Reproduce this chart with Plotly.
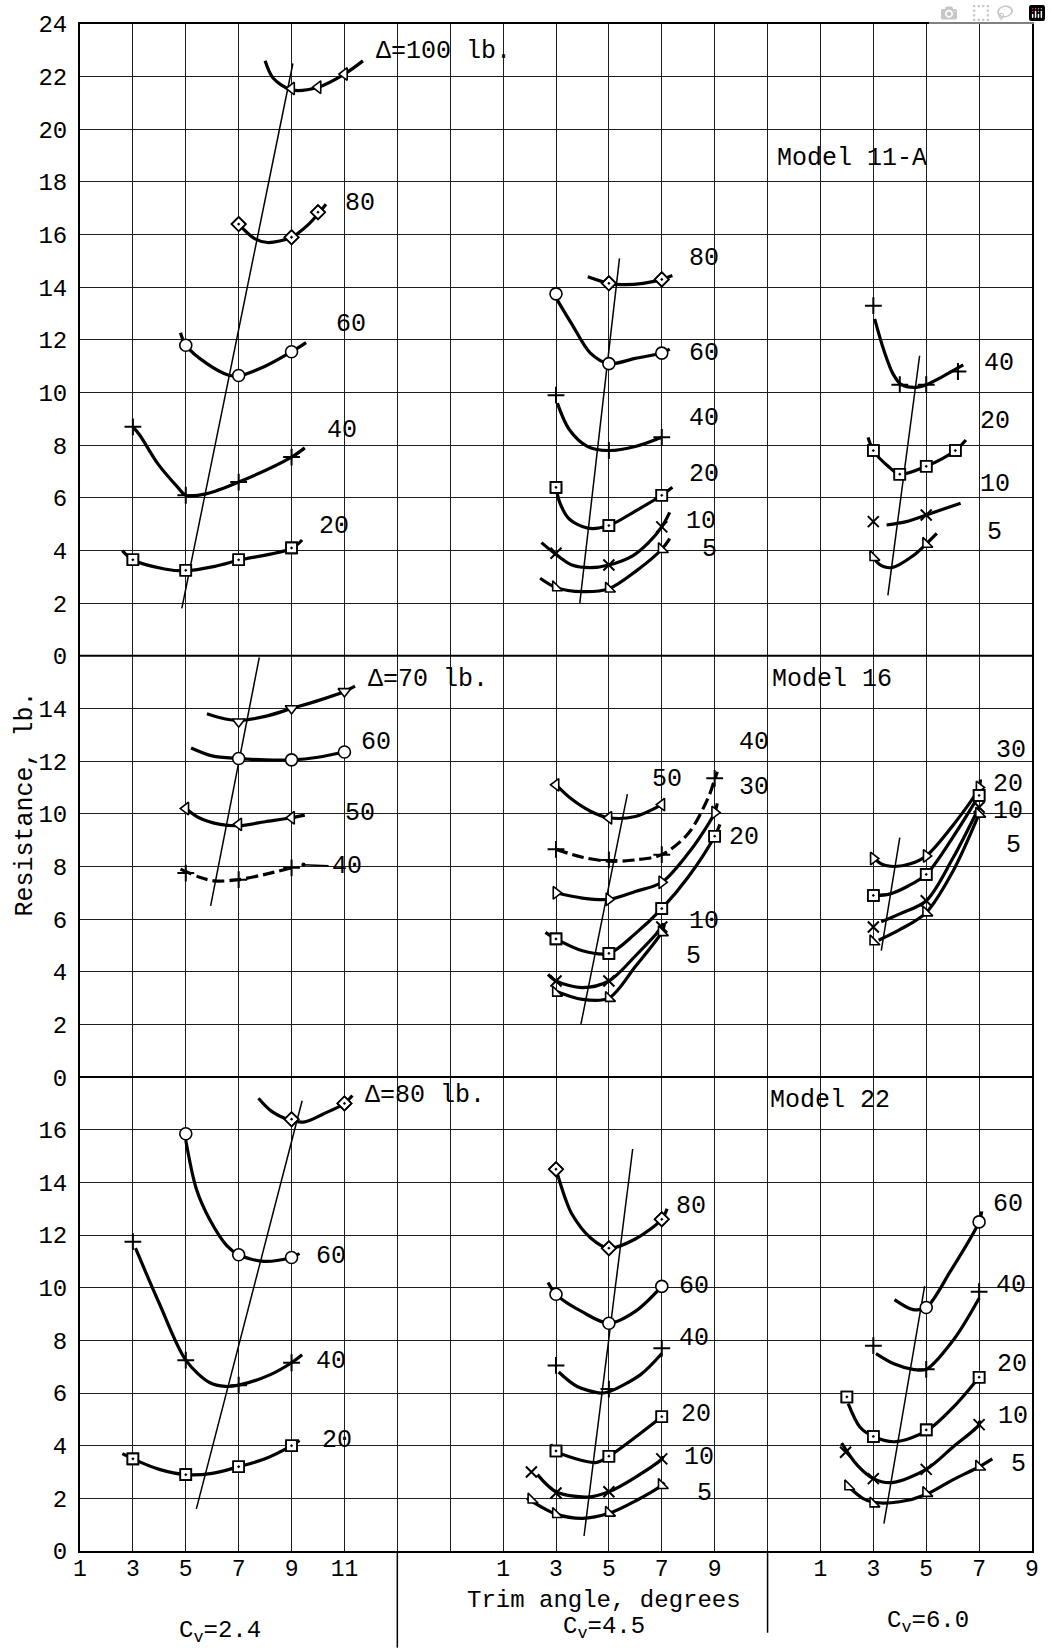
import plotly.graph_objects as go

# ------------------------------------------------------------------
# Data (panel coordinates).
# x = trim angle (deg), y = resistance (lb).
# *_PX/*_PY : plotted test points, one list per displacement (DELTA)
# *_CX/*_CY : faired curve traced through the points
# *_TX/*_TY : straight line through the curve minima
# A = Model 11-A, B = Model 16, C = Model 22 ; 24/45/60 = Cv 2.4/4.5/6.0
# ------------------------------------------------------------------

# ---- Model 11-A, Cv = 2.4
A24_DELTA = [100, 80, 60, 40, 20]
A24_PX = [[9, 10, 11], [7, 9, 10], [5, 7, 9], [3, 5, 7, 9], [3, 5, 7, 9]]
A24_PY = [[21.55, 21.6, 22.1], [16.4, 15.9, 16.85], [11.8, 10.65, 11.55],
          [8.7, 6.1, 6.6, 7.55], [3.65, 3.25, 3.65, 4.1]]
A24_CX = [[8.0, 8.3, 9.0, 10.0, 11.0, 11.7],
          [7.0, 7.6, 8.1, 9.0, 9.6, 10.1, 10.3],
          [4.8, 5.0, 5.8, 6.6, 7.0, 8.0, 9.0, 9.55],
          [3.0, 3.25, 3.94, 4.7, 5.0, 5.8, 7.0, 9.0, 9.5],
          [2.6, 3.0, 4.2, 5.0, 6.1, 7.0, 9.0, 9.4]]
A24_CY = [[22.6, 21.95, 21.5, 21.6, 22.1, 22.6],
          [16.4, 15.85, 15.7, 15.9, 16.35, 16.9, 17.15],
          [12.27, 11.8, 11.1, 10.67, 10.64, 11.0, 11.55, 11.9],
          [8.7, 8.4, 7.3, 6.4, 6.1, 6.16, 6.6, 7.55, 7.9],
          [4.0, 3.65, 3.3, 3.23, 3.4, 3.63, 4.08, 4.4]]
A24_TX = [4.85, 9.05]
A24_TY = [1.8, 22.5]

# ---- Model 11-A, Cv = 4.5
A45_DELTA = [80, 60, 40, 20, 10, 5]
A45_PX = [[5, 7], [3, 5, 7], [3, 5, 7], [3, 5, 7], [3, 5, 7], [3, 5, 7]]
A45_PY = [[14.15, 14.3], [13.75, 11.1, 11.5], [9.9, 7.8, 8.3], [6.4, 4.95, 6.1],
          [3.9, 3.45, 4.9], [2.6, 2.55, 4.05]]
A45_CX = [[4.2, 5.0, 5.5, 6.3, 7.0, 7.4],
          [3.0, 3.6, 4.3, 5.0, 6.0, 7.0, 7.3],
          [3.05, 3.5, 4.2, 5.0, 6.0, 7.0],
          [3.0, 3.15, 3.5, 4.2, 5.0, 6.0, 7.0, 7.4],
          [2.45, 3.0, 3.6, 4.3, 5.0, 5.9, 6.5, 7.0, 7.3],
          [2.4, 3.0, 4.0, 5.0, 6.0, 7.0, 7.3]]
A45_CY = [[14.4, 14.15, 14.1, 14.15, 14.3, 14.45],
          [13.6, 12.6, 11.5, 11.1, 11.3, 11.5, 11.65],
          [9.6, 8.6, 7.95, 7.8, 7.95, 8.3],
          [6.4, 5.8, 5.2, 4.85, 4.95, 5.5, 6.1, 6.4],
          [4.3, 3.85, 3.45, 3.35, 3.45, 3.8, 4.3, 4.9, 5.45],
          [2.95, 2.6, 2.44, 2.55, 3.2, 4.05, 4.45]]
A45_TX = [3.9, 5.4]
A45_TY = [2.0, 15.1]

# ---- Model 11-A, Cv = 6.0
A60_DELTA = [40, 20, 10, 5]
A60_PX = [[3, 4, 5, 6.2], [3, 4, 5, 6.1], [3, 5], [3, 5]]
A60_PY = [[13.3, 10.3, 10.3, 10.8], [7.8, 6.9, 7.2, 7.8], [5.1, 5.35], [3.75, 4.25]]
A60_CX = [[3.05, 3.4, 3.75, 4.06, 4.6, 5.0, 5.6, 6.4],
          [2.8, 3.0, 3.56, 4.0, 5.0, 6.1, 6.5],
          [3.5, 4.25, 5.0, 6.3],
          [2.9, 3.2, 3.7, 4.5, 5.0, 5.4]]
A60_CY = [[12.8, 11.6, 10.7, 10.3, 10.2, 10.3, 10.6, 11.05],
          [8.3, 7.8, 7.2, 6.9, 7.2, 7.8, 8.2],
          [4.97, 5.1, 5.35, 5.8],
          [3.95, 3.5, 3.35, 3.8, 4.25, 4.65]]
A60_TX = [3.55, 4.75]
A60_TY = [2.3, 11.4]

# ---- Model 16, Cv = 2.4
B24_DELTA = [70, 60, 50, 40]
B24_PX = [[7, 9, 11], [7, 9, 11], [5, 7, 9], [5, 7, 9]]
B24_PY = [[13.5, 14.0, 14.65], [12.1, 12.05, 12.35], [10.2, 9.6, 9.85], [7.75, 7.5, 7.95]]
B24_CX = [[5.8, 6.5, 7.0, 8.0, 9.0, 10.0, 11.0, 11.4],
          [5.2, 6.0, 7.0, 8.0, 9.0, 10.0, 11.0],
          [5.0, 5.5, 6.3, 7.0, 8.0, 9.0, 9.5],
          [4.8, 5.5, 6.1, 7.0, 8.0, 9.0]]
B24_CY = [[13.8, 13.6, 13.55, 13.7, 14.0, 14.3, 14.65, 14.85],
          [12.5, 12.2, 12.1, 12.05, 12.05, 12.15, 12.35],
          [10.2, 9.85, 9.6, 9.55, 9.7, 9.85, 9.95],
          [7.9, 7.6, 7.45, 7.5, 7.7, 7.95]]
B24_TX = [5.94, 7.78]
B24_TY = [6.5, 15.94]

# ---- Model 16, Cv = 4.5
B45_DELTA = [50, 40, 30, 20, 10, 5]
B45_PX = [[3, 5, 7], [3, 5, 7, 9], [3, 5, 7, 9], [3, 5, 7, 9], [3, 5, 7], [3, 5, 7]]
B45_PY = [[11.1, 9.85, 10.35], [8.65, 8.25, 8.45, 11.35], [7.0, 6.75, 7.4, 10.05],
          [5.25, 4.7, 6.4, 9.15], [3.65, 3.65, 5.7], [3.2, 3.0, 5.5]]
B45_CX = [[3.0, 3.6, 4.3, 5.0, 6.0, 7.0],
          [3.0, 4.0, 5.0, 6.0, 7.0, 8.0, 8.75, 9.0, 9.1],
          [3.0, 4.0, 5.0, 6.0, 7.0, 8.0, 8.5, 9.0, 9.1],
          [2.6, 3.0, 4.0, 5.0, 6.0, 7.0, 8.0, 9.0, 9.2],
          [2.7, 3.0, 4.0, 5.0, 6.0, 7.0, 7.05],
          [2.9, 4.0, 5.0, 6.0, 7.0, 7.1]]
B45_CY = [[11.1, 10.55, 10.1, 9.85, 9.9, 10.35],
          [8.65, 8.35, 8.2, 8.25, 8.45, 9.25, 10.6, 11.3, 11.6],
          [7.0, 6.8, 6.75, 7.05, 7.4, 8.5, 9.2, 10.05, 10.4],
          [5.5, 5.25, 4.8, 4.7, 5.45, 6.4, 7.6, 9.15, 9.6],
          [3.9, 3.65, 3.4, 3.65, 4.6, 5.7, 5.85],
          [3.3, 2.95, 3.0, 4.2, 5.5, 5.8]]
B45_TX = [3.94, 5.7]
B45_TY = [2.0, 10.75]

# ---- Model 16, Cv = 6.0
B60_DELTA = [30, 20, 10, 5]
B60_PX = [[3, 5, 7], [3, 5, 7], [3, 5, 7], [3, 5, 7]]
B60_PY = [[8.3, 8.4, 11.0], [6.9, 7.7, 10.7], [5.7, 6.7, 10.25], [5.15, 6.25, 10.0]]
B60_CX = [[2.9, 3.3, 3.8, 4.4, 5.0, 6.0, 7.0, 7.05],
          [3.1, 3.6, 4.3, 5.0, 6.0, 7.0],
          [3.3, 4.0, 5.0, 6.0, 7.0],
          [3.2, 4.0, 5.0, 6.0, 7.0]]
B60_CY = [[8.45, 8.1, 8.0, 8.1, 8.4, 9.55, 11.0, 11.3],
          [6.9, 6.95, 7.25, 7.7, 9.1, 10.7],
          [5.9, 6.2, 6.7, 8.3, 10.25],
          [5.2, 5.6, 6.25, 7.8, 10.0]]
B60_TX = [3.3, 4.0]
B60_TY = [4.8, 9.1]

# ---- Model 22, Cv = 2.4
C24_DELTA = [80, 60, 40, 20]
C24_PX = [[9, 11], [5, 7, 9], [3, 5, 7, 9], [3, 5, 7, 9]]
C24_PY = [[16.4, 17.0], [15.85, 11.25, 11.15], [11.75, 7.25, 6.3, 7.15], [3.5, 2.9, 3.2, 4.0]]
C24_CX = [[7.75, 8.25, 9.0, 9.5, 10.2, 11.0, 11.3],
          [5.0, 5.4, 5.9, 6.55, 7.0, 7.95, 9.0, 9.3],
          [3.1, 4.0, 5.0, 5.9, 6.5, 7.0, 8.2, 9.0, 9.4],
          [2.6, 3.0, 4.0, 5.0, 6.0, 7.0, 8.0, 9.0, 9.3]]
C24_CY = [[17.2, 16.7, 16.35, 16.3, 16.6, 17.0, 17.3],
          [15.6, 13.75, 12.6, 11.6, 11.25, 11.0, 11.15, 11.3],
          [11.5, 9.4, 7.25, 6.4, 6.25, 6.3, 6.7, 7.15, 7.45],
          [3.7, 3.5, 3.1, 2.9, 2.95, 3.2, 3.5, 4.0, 4.2]]
C24_TX = [5.4, 9.4]
C24_TY = [1.6, 17.1]

# ---- Model 22, Cv = 4.5
C45_DELTA = [80, 60, 40, 20, 10, 5]
C45_PX = [[3, 5, 7], [3, 5, 7], [3, 5, 7], [3, 5, 7], [2.07, 3, 5, 7], [2.07, 3, 5, 7]]
C45_PY = [[14.5, 11.5, 12.6], [9.75, 8.65, 10.05], [7.05, 6.15, 7.7], [3.8, 3.6, 5.1],
          [3.0, 2.2, 2.25, 3.5], [1.95, 1.4, 1.45, 2.5]]
C45_CX = [[3.0, 3.33, 3.6, 4.3, 5.0, 6.0, 7.0, 7.2],
          [2.7, 3.0, 4.0, 5.0, 6.0, 7.0],
          [3.1, 3.8, 4.7, 5.0, 6.2, 7.0],
          [2.8, 3.0, 4.5, 5.0, 6.1, 7.0],
          [2.3, 3.0, 4.2, 5.0, 6.0, 7.0, 7.05],
          [1.9, 2.4, 3.0, 4.0, 5.0, 6.0, 7.0, 7.1]]
C45_CY = [[14.5, 13.45, 12.8, 11.9, 11.5, 11.85, 12.6, 13.0],
          [10.2, 9.75, 9.08, 8.65, 9.1, 10.05],
          [6.8, 6.25, 6.0, 6.05, 6.7, 7.5],
          [4.05, 3.8, 3.36, 3.6, 4.4, 5.1],
          [2.9, 2.25, 2.05, 2.25, 2.8, 3.5, 3.6],
          [2.0, 1.7, 1.4, 1.24, 1.43, 1.9, 2.5, 2.6]]
C45_TX = [4.06, 5.9]
C45_TY = [0.57, 15.27]

# ---- Model 22, Cv = 6.0
C60_DELTA = [60, 40, 20, 10, 5]
C60_PX = [[5, 7], [3, 5, 7], [2, 3, 5, 7], [1.95, 3, 5, 7], [2.05, 3, 5, 7]]
C60_PY = [[9.25, 12.5], [7.8, 6.9, 9.85], [5.85, 4.35, 4.6, 6.6], [3.75, 2.75, 3.1, 4.8],
          [2.45, 1.8, 2.2, 3.2]]
C60_CX = [[3.8, 4.5, 5.0, 5.9, 7.0, 7.1],
          [3.1, 3.8, 4.5, 5.0, 6.06, 7.0],
          [2.05, 2.5, 3.0, 3.8, 5.0, 6.06, 7.0],
          [1.8, 2.4, 3.0, 3.7, 5.0, 6.0, 7.0, 7.02],
          [2.1, 2.6, 3.0, 4.0, 5.0, 6.0, 7.0, 7.5]]
C60_CY = [[9.55, 9.17, 9.25, 10.6, 12.5, 12.9],
          [7.5, 7.1, 6.9, 6.9, 8.06, 9.6],
          [5.6, 4.7, 4.35, 4.15, 4.55, 5.5, 6.6],
          [4.1, 3.25, 2.75, 2.6, 3.1, 3.94, 4.8, 4.95],
          [2.4, 2.0, 1.85, 1.87, 2.15, 2.7, 3.2, 3.5]]
C60_TX = [3.4, 4.94]
C60_TY = [1.04, 10.06]

# ---- tick labels
X_TICKS_24 = [1, 3, 5, 7, 9, 11]
X_TICKS_45 = [1, 3, 5, 7, 9]
X_TICKS_60 = [1, 3, 5, 7, 9]
Y_TICKS_11A = [0, 2, 4, 6, 8, 10, 12, 14, 16, 18, 20, 22, 24]
Y_TICKS_16 = [0, 2, 4, 6, 8, 10, 12, 14]
Y_TICKS_22 = [0, 2, 4, 6, 8, 10, 12, 14, 16]

# ------------------------------------------------------------------
# Layout of the composite grid (offsets of each panel on the shared axes)
# ------------------------------------------------------------------
X_OFF = {"24": 0, "45": 16, "60": 28}
Y_OFF = {"A": 34, "B": 18, "C": 0}
FONT = "Liberation Mono, Courier New, monospace"

SYMBOL = {100: "triangle-left", 80: "diamond", 70: "triangle-down", 60: "circle",
          50: "triangle-left", 40: "cross-thin", 30: "triangle-right", 20: "square",
          10: "x-thin", 5: "triangle-sw"}
MSIZE = {100: 11, 80: 11, 70: 11, 60: 12, 50: 11, 40: 12, 30: 11, 20: 11, 10: 11, 5: 11}
DOTTED = {80: "diamond-open-dot", 20: "square-open-dot"}
DASHED = {("B", "24", 40), ("B", "45", 40)}

# label positions (panel coordinates), same order as DELTA lists
LABELS = {
    ("A", "24"): [(12.1, 22.95, "left"), (11.6, 17.2), (11.25, 12.6), (10.9, 8.56), (10.6, 4.9)],
    ("A", "45"): [(8.6, 15.1), (8.6, 11.5), (8.6, 9.0), (8.6, 6.9), (8.5, 5.1), (8.8, 4.05)],
    ("A", "60"): [(7.75, 11.1), (7.6, 8.9), (7.6, 6.5), (7.6, 4.7)],
    ("B", "24"): [(11.8, 15.1, "left"), (12.2, 12.7), (11.6, 10.0), (11.1, 8.0)],
    ("B", "45"): [(7.2, 11.3), (10.5, 12.7), (10.5, 11.0), (10.1, 9.1), (8.6, 5.9), (8.2, 4.6)],
    ("B", "60"): [(8.2, 12.4), (8.1, 11.1), (8.1, 10.1), (8.3, 8.8)],
    ("C", "24"): [(11.7, 17.3, "left"), (10.5, 11.2), (10.5, 7.2), (10.7, 4.2)],
    ("C", "45"): [(8.1, 13.1), (8.2, 10.05), (8.2, 8.06), (8.3, 5.2), (8.4, 3.55), (8.6, 2.2)],
    ("C", "60"): [(8.1, 13.15), (8.2, 10.1), (8.25, 7.1), (8.3, 5.1), (8.5, 3.3)],
}

GROUPS = [
    ("A", "24", A24_DELTA, A24_PX, A24_PY, A24_CX, A24_CY, A24_TX, A24_TY),
    ("A", "45", A45_DELTA, A45_PX, A45_PY, A45_CX, A45_CY, A45_TX, A45_TY),
    ("A", "60", A60_DELTA, A60_PX, A60_PY, A60_CX, A60_CY, A60_TX, A60_TY),
    ("B", "24", B24_DELTA, B24_PX, B24_PY, B24_CX, B24_CY, B24_TX, B24_TY),
    ("B", "45", B45_DELTA, B45_PX, B45_PY, B45_CX, B45_CY, B45_TX, B45_TY),
    ("B", "60", B60_DELTA, B60_PX, B60_PY, B60_CX, B60_CY, B60_TX, B60_TY),
    ("C", "24", C24_DELTA, C24_PX, C24_PY, C24_CX, C24_CY, C24_TX, C24_TY),
    ("C", "45", C45_DELTA, C45_PX, C45_PY, C45_CX, C45_CY, C45_TX, C45_TY),
    ("C", "60", C60_DELTA, C60_PX, C60_PY, C60_CX, C60_CY, C60_TX, C60_TY),
]

fig = go.Figure()
annotations = []

for model, cv, deltas, px, py, cxs, cys, tx, ty in GROUPS:
    xo, yo = X_OFF[cv], Y_OFF[model]
    # trend line through the minima
    fig.add_trace(go.Scatter(x=[v + xo for v in tx], y=[v + yo for v in ty], mode="lines",
                             line=dict(color="black", width=1.5), hoverinfo="skip"))
    for i, d in enumerate(deltas):
        dash = "12px,5px" if (model, cv, d) in DASHED else "solid"
        fig.add_trace(go.Scatter(x=[v + xo for v in cxs[i]], y=[v + yo for v in cys[i]],
                                 mode="lines", hoverinfo="skip",
                                 line=dict(color="black", width=3.2, shape="spline",
                                           smoothing=0.9, dash=dash)))
        sym = SYMBOL[d]
        thin = sym.endswith("thin")
        fig.add_trace(go.Scatter(
            x=[v + xo for v in px[i]], y=[v + yo for v in py[i]], mode="markers",
            hoverinfo="skip",
            marker=dict(symbol=sym, size=MSIZE[d], color="white",
                        line=dict(color="black", width=2.0 if thin else 1.6))))
        if d in DOTTED:
            fig.add_trace(go.Scatter(
                x=[v + xo for v in px[i]], y=[v + yo for v in py[i]], mode="markers",
                hoverinfo="skip",
                marker=dict(symbol=DOTTED[d], size=MSIZE[d], color="black",
                            line=dict(color="black", width=1.6))))
        pos = LABELS[(model, cv)][i]
        if len(pos) == 3:
            text, xa = "Δ=%d lb." % d, "left"
        else:
            text, xa = str(d), "center"
        annotations.append(dict(x=pos[0] + xo, y=pos[1] + yo, xref="x", yref="y",
                                text=text, showarrow=False, xanchor=xa, yanchor="middle",
                                font=dict(family=FONT, size=25, color="black")))

# leader with dot for the "40" label of Model 16, Cv = 2.4
for a in annotations:
    if a["text"] == "40" and abs(a["x"] - 11.1) < 1e-6 and abs(a["y"] - (8.0 + 18)) < 1e-6:
        a.update(showarrow=True, x=9.45, y=8.07 + 18, ax=11.1, ay=8.0 + 18,
                 axref="x", ayref="y", arrowhead=6, arrowsize=0.7, arrowwidth=1.5,
                 arrowcolor="black", standoff=0, startstandoff=2)

# model titles
for text, u, v in [("Model 11-A", 27.3, 52.9), ("Model 16", 27.1, 33.1), ("Model 22", 27.0, 17.1)]:
    annotations.append(dict(x=u, y=v, xref="x", yref="y", text=text, showarrow=False,
                            xanchor="left", yanchor="middle",
                            font=dict(family=FONT, size=25, color="black")))

# axis titles and Cv captions
annotations.append(dict(x=-0.0575, y=0.489, xref="paper", yref="paper", text="Resistance, lb.",
                        textangle=-90, showarrow=False, xanchor="center", yanchor="middle",
                        font=dict(family=FONT, size=25, color="black")))
annotations.append(dict(x=20.8, y=-0.0325, xref="x", yref="paper", text="Trim angle, degrees",
                        showarrow=False, xanchor="center", yanchor="middle",
                        font=dict(family=FONT, size=24, color="black")))
for text, u, yp in [("C<sub>v</sub>=2.4", 6.3, -0.0530), ("C<sub>v</sub>=4.5", 20.8, -0.0505),
                    ("C<sub>v</sub>=6.0", 33.05, -0.0465)]:
    annotations.append(dict(x=u, y=yp, xref="x", yref="paper", text=text, showarrow=False,
                            xanchor="center", yanchor="middle",
                            font=dict(family=FONT, size=24, color="black")))

# ticks: a regular grid every 2 units, labelled per panel
xt_vals = list(range(1, 38, 2))
xt_map = {}
for cv, ticks in [("24", X_TICKS_24), ("45", X_TICKS_45), ("60", X_TICKS_60)]:
    for t in ticks:
        xt_map[t + X_OFF[cv]] = str(t)
xt_text = [xt_map.get(u, " ") for u in xt_vals]

yt_vals = list(range(0, 59, 2))
yt_map = {}
for m, ticks in [("C", Y_TICKS_22), ("B", Y_TICKS_16), ("A", Y_TICKS_11A)]:
    for t in ticks:
        yt_map[t + Y_OFF[m]] = str(t)
yt_text = [yt_map.get(v, " ") for v in yt_vals]

shapes = [
    dict(type="line", xref="paper", yref="y", x0=0, x1=1, y0=18, y1=18,
         line=dict(color="black", width=2)),
    dict(type="line", xref="paper", yref="y", x0=0, x1=1, y0=34, y1=34,
         line=dict(color="black", width=2)),
    dict(type="line", xref="x", yref="paper", x0=13, x1=13, y0=0, y1=-0.0633,
         line=dict(color="black", width=1.5)),
    dict(type="line", xref="x", yref="paper", x0=27, x1=27, y0=0, y1=-0.0535,
         line=dict(color="black", width=1.5)),
]

fig.update_layout(
    width=1051, height=1648, autosize=False,
    margin=dict(l=80, r=14, t=19, b=97),
    paper_bgcolor="white", plot_bgcolor="white",
    showlegend=False, hovermode=False,
    font=dict(family=FONT, size=24, color="black"),
    annotations=annotations, shapes=shapes,
    xaxis=dict(range=[1, 37], tickmode="array", tickvals=xt_vals, ticktext=xt_text,
               showgrid=True, gridcolor="#1e1e1e", gridwidth=1, zeroline=False,
               showline=True, linecolor="black", linewidth=2, mirror=True,
               ticks="", ticklabelstandoff=-5, tickfont=dict(family=FONT, size=23),
               fixedrange=True),
    yaxis=dict(range=[0, 58], tickmode="array", tickvals=yt_vals, ticktext=yt_text,
               showgrid=True, gridcolor="#1e1e1e", gridwidth=1, zeroline=False,
               showline=True, linecolor="black", linewidth=2, mirror=True,
               ticks="", ticklabelstandoff=6, tickfont=dict(family=FONT, size=24),
               fixedrange=True),
)

fig.write_html("out.html", post_script="document.body.style.margin='0';")
